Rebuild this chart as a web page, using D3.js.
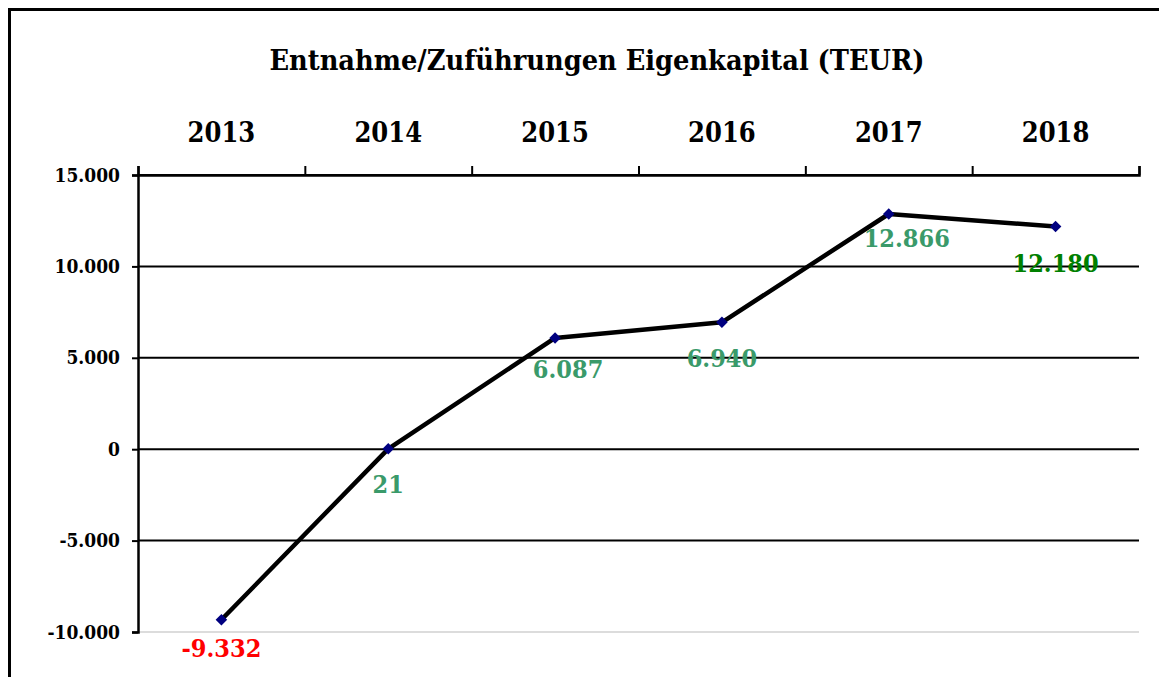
<!DOCTYPE html>
<html>
<head>
<meta charset="utf-8">
<script src="https://cdn.jsdelivr.net/npm/d3@7"></script>
<style>
  html, body { margin: 0; padding: 0; background: #fff; }
  svg { display: block; }
  text { font-family: "DejaVu Serif", serif; font-stretch: condensed; font-weight: bold; }
</style>
</head>
<body>
<svg id="chart" width="1159" height="677"></svg>
<script>
const title = "Entnahme/Zuführungen Eigenkapital (TEUR)";
const categories = ["2013", "2014", "2015", "2016", "2017", "2018"];
const values = [-9332, 21, 6087, 6940, 12866, 12180];
const valueLabels = ["-9.332", "21", "6.087", "6.940", "12.866", "12.180"];
const labelColors = ["#ff0000", "#3a9a6a", "#3a9a6a", "#3a9a6a", "#3a9a6a", "#008000"];
const yTicks = [-10000, -5000, 0, 5000, 10000, 15000];
const yTickLabels = ["-10.000", "-5.000", "0", "5.000", "10.000", "15.000"];

// layout config (pixel nudges for data labels: [dx, dy of baseline])
const labelNudge = [[0, 37], [0, 44], [13, 40], [0, 45], [18, 33], [0, 45]];

const svg = d3.select("#chart");
const plot = { left: 138, right: 1139, top: 175, bottom: 632 };

const x = d3.scaleBand().domain(categories).range([plot.left, plot.right]);
const xb = d3.scaleLinear().domain([0, categories.length]).range([plot.left, plot.right]);
const y = d3.scaleLinear().domain([-10000, 15000]).range([plot.bottom, plot.top]);

// outer border (left and top visible)
svg.append("path")
  .attr("d", `M9.5,677 L9.5,9.5 L1159,9.5`)
  .attr("fill", "none").attr("stroke", "#000").attr("stroke-width", 3);

// title
svg.append("text")
  .attr("x", 597).attr("y", 70)
  .attr("text-anchor", "middle")
  .attr("font-size", 28.6)
  .attr("fill", "#000")
  .text(title);

// gridlines
svg.append("g").selectAll("line")
  .data(yTicks)
  .join("line")
  .attr("x1", plot.left).attr("x2", plot.right)
  .attr("y1", d => y(d)).attr("y2", d => y(d))
  .attr("stroke", d => d === -10000 ? "#d0d0d0" : "#000")
  .attr("stroke-width", d => d === -10000 ? 1.5 : 2);

// y axis
const yAxis = svg.append("g")
  .attr("transform", `translate(${plot.left},0)`)
  .call(d3.axisLeft(y).tickValues(yTicks).tickSize(6).tickPadding(12)
    .tickFormat((d, i) => yTickLabels[i]));
yAxis.select(".domain").attr("stroke", "#000").attr("stroke-width", 2.5);
yAxis.selectAll(".tick line").attr("stroke", "#000").attr("stroke-width", 2);
yAxis.selectAll(".tick text")
  .attr("font-size", 19).attr("fill", "#000")
  .style("font-family", "'DejaVu Serif', serif").style("font-weight", "bold")
  .style("font-stretch", "condensed");

// top axis: boundary ticks
const topAxis = svg.append("g")
  .attr("transform", `translate(0,${plot.top})`)
  .call(d3.axisTop(xb).ticks(categories.length).tickSize(9).tickSizeOuter(9).tickFormat(""));
topAxis.select(".domain").attr("stroke", "#000").attr("stroke-width", 2.5);
topAxis.selectAll(".tick line").attr("stroke", "#000").attr("stroke-width", 2);

// category labels
svg.append("g").selectAll("text")
  .data(categories)
  .join("text")
  .attr("x", d => x(d) + x.bandwidth() / 2)
  .attr("y", 142)
  .attr("text-anchor", "middle")
  .attr("font-size", 27)
  .attr("fill", "#000")
  .text(d => d);

// line
const line = d3.line()
  .x((d, i) => x(categories[i]) + x.bandwidth() / 2)
  .y(d => y(d));
svg.append("path")
  .datum(values)
  .attr("d", line)
  .attr("fill", "none")
  .attr("stroke", "#000")
  .attr("stroke-width", 4.5)
  .attr("stroke-linejoin", "round");

// markers
svg.append("g").selectAll("path")
  .data(values)
  .join("path")
  .attr("transform", (d, i) => `translate(${x(categories[i]) + x.bandwidth() / 2},${y(d)})`)
  .attr("d", d3.symbol().type(d3.symbolDiamond2).size(85))
  .attr("fill", "#000080");

// data labels
svg.append("g").selectAll("text")
  .data(values)
  .join("text")
  .attr("x", (d, i) => x(categories[i]) + x.bandwidth() / 2 + labelNudge[i][0])
  .attr("y", (d, i) => y(d) + labelNudge[i][1])
  .attr("text-anchor", "middle")
  .attr("font-size", 25)
  .attr("fill", (d, i) => labelColors[i])
  .text((d, i) => valueLabels[i]);
</script>
</body>
</html>
